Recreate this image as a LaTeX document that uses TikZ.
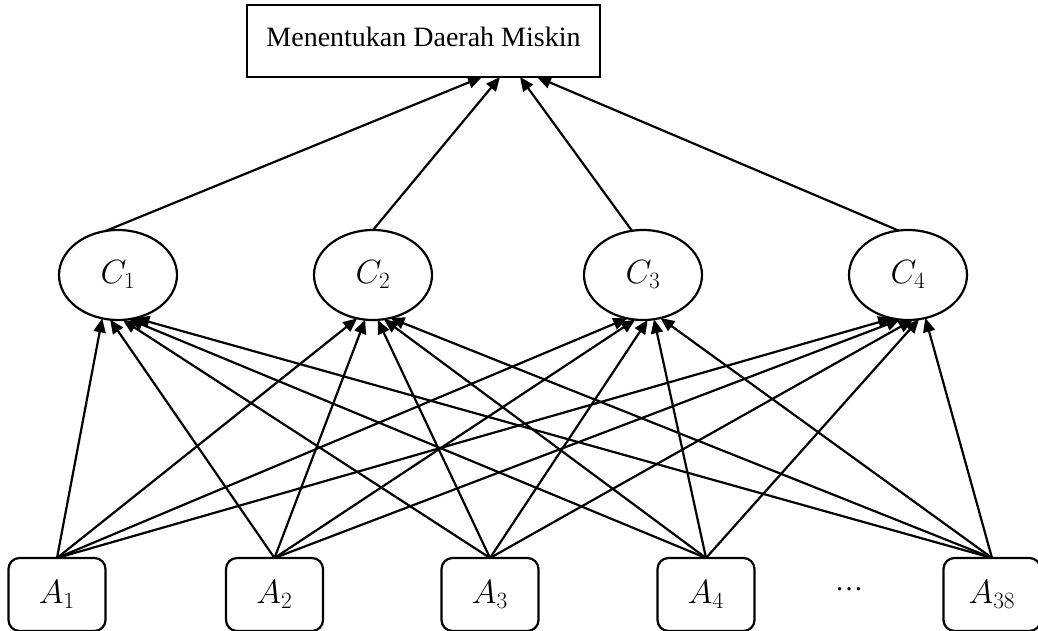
\documentclass[tikz,border=0pt]{standalone}
\usepackage{fontspec}
\setmainfont{Liberation Serif}
\usetikzlibrary{arrows.meta,shapes.geometric}
% math labels enlarged beyond the largest math font size
\newcommand{\biglbl}[1]{\scalebox{1.35}{$#1$}}
\begin{document}
\begin{tikzpicture}[x=1pt,y=-1pt,
  every node/.style={inner sep=0pt, outer sep=0pt},
  goalbox/.style={draw, line width=2.2pt, minimum width=353pt, minimum height=72pt},
  crit/.style={draw, ellipse, line width=2.2pt, minimum width=118pt, minimum height=90pt,
               font=\fontsize{24}{28}\selectfont},
  alt/.style={draw, rounded corners=11pt, line width=2.2pt, minimum width=97pt,
              minimum height=73pt, font=\fontsize{24}{28}\selectfont},
  link/.style={line width=2.2pt, -{Triangle[length=14pt,width=12pt]}},
]
\useasboundingbox (0,0) rectangle (1038,631);

% goal
\node[goalbox] (top) at (423.5,41) {};
\node[font=\fontsize{28}{32}\selectfont] (goaltext) at ([yshift=4pt]top.center) {Menentukan Daerah Miskin};

% criteria
\node[crit] (c1) at (118,275) {\biglbl{C_1}};
\node[crit] (c2) at (373,275) {\biglbl{C_2}};
\node[crit] (c3) at (643,275) {\biglbl{C_3}};
\node[crit] (c4) at (908,275) {\biglbl{C_4}};

% alternatives
\node[alt] (a1)  at (57,594.5)  {\biglbl{A_1}};
\node[alt] (a2)  at (274.5,594.5) {\biglbl{A_2}};
\node[alt] (a3)  at (490,594.5) {\biglbl{A_3}};
\node[alt] (a4)  at (706,594.5) {\biglbl{A_4}};
\node[font=\fontsize{28}{32}\selectfont] (dots) at (849,589) {…};
\node[alt] (a38) at (992,594.5) {\biglbl{A_{38}}};

% criteria to goal
\draw[link] (c1.106) -- ([xshift=235pt]top.south west);
\draw[link] (c2.90)  -- ([xshift=253pt]top.south west);
\draw[link] (c3.104) -- ([xshift=273pt]top.south west);
\draw[link] (c4.102) -- ([xshift=290pt]top.south west);

% alternatives to criteria
\foreach \a/\ang in {a1/250, a2/260, a3/276, a4/284, a38/292}
  \foreach \c in {c1,c2,c3,c4}
    \draw[link] (\a.north) -- (\c.\ang);
\end{tikzpicture}
\end{document}
